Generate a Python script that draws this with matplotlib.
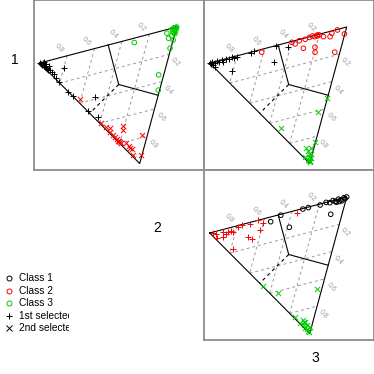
import matplotlib
matplotlib.use('Agg')
import matplotlib.pyplot as plt
import numpy as np
from matplotlib.transforms import Bbox, TransformedBbox

plt.rcParams['font.family'] = ['Liberation Sans', 'DejaVu Sans']

# ---------------- data (ternary coordinates: a = left vertex, c = bottom vertex) -------------
class_names = ["Class 1", "Class 2", "Class 3"]
class_colors = ["#000000", "#FF0000", "#00CD00"]
legend_shapes = ["1st selected", "2nd selected"]
diag_labels = ["1", "2", "3"]
tick_values = [0.2, 0.4, 0.6, 0.8]

# panel (1,2): L = class 1, T = class 3, B = class 2
p1_black_a = [1.0, 0.99, 0.98, 0.97, 0.96, 0.95, 0.94, 0.93, 0.92, 0.90, 0.88, 0.86, 0.84, 0.81, 0.80, 0.97, 0.95, 0.92,
              0.715, 0.67, 0.52, 0.495, 0.425]
p1_black_c = [0.0, 0.01, 0.02, 0.01, 0.03, 0.04, 0.05, 0.06, 0.07, 0.08, 0.10, 0.12, 0.15, 0.19, 0.09, 0.0, 0.02, 0.04,
              0.285, 0.33, 0.48, 0.385, 0.55]
p1_red_a = [0.607, 0.387, 0.34, 0.30, 0.31, 0.27, 0.22, 0.21, 0.20, 0.19, 0.21, 0.20, 0.147, 0.11, 0.07, 0.046, 0.005,
            0.09, 0.12, 0.25, 0.23]
p1_red_c = [0.368, 0.60, 0.64, 0.688, 0.66, 0.72, 0.78, 0.78, 0.79, 0.80, 0.67, 0.70, 0.814, 0.86, 0.92, 0.78, 0.937,
            0.87, 0.84, 0.74, 0.76]
p1_green_a = [0.30, 0.04, 0.01, 0.007, 0.064, 0.04, 0.02, 0.0, 0.02, 0.01, 0.005, 0.0, 0.0, 0.01, 0.0, 0.03, 0.02, 0.0, 0.01]
p1_green_c = [0.035, 0.34, 0.46, 0.154, 0.029, 0.072, 0.06, 0.096, 0.029, 0.007, 0.005, 0.01, 0.0, 0.02, 0.03, 0.01, 0.0, 0.05, 0.04]

# panel (1,3): L = class 1, T = class 2, B = class 3
p2_black_a = [1.0, 0.98, 0.96, 0.95, 0.93, 0.91, 0.90, 0.88, 0.86, 0.84, 0.82, 0.80, 0.70, 0.68, 0.515, 0.417, 0.497,
              0.805, 0.95, 0.97, 0.99]
p2_black_c = [0.0, 0.0, 0.01, 0.0, 0.01, 0.0, 0.02, 0.0, 0.01, 0.0, 0.01, 0.011, 0.007, 0.0, 0.003, 0.034, 0.123,
              0.11, 0.04, 0.02, 0.01]
p2_red_a = [0.614, 0.399, 0.369, 0.343, 0.30, 0.295, 0.206, 0.195, 0.215, 0.21, 0.20, 0.162, 0.11, 0.103, 0.067, 0.003,
            0.04, 0.25, 0.23, 0.27]
p2_red_c = [0.023, 0.007, 0.027, 0.01, 0.011, 0.078, 0.094, 0.134, 0.002, 0.01, 0.005, 0.028, 0.042, 0.019, 0.004, 0.05,
            0.174, 0.0, 0.01, 0.005]
p2_green_a = [0.01, 0.02, 0.058, 0.007, 0.006, 0.043, 0.30, 0.05, 0.02, 0.0, 0.03, 0.01, 0.0, 0.04, 0.0, 0.02]
p2_green_c = [0.97, 0.884, 0.874, 0.839, 0.521, 0.614, 0.663, 0.937, 0.95, 0.99, 0.92, 0.93, 0.96, 0.90, 0.98, 0.97]

# panel (2,3): L = class 2, T = class 1, B = class 3
p3_red_a = [0.93, 0.886, 0.857, 0.817, 0.788, 0.766, 0.701, 0.644, 0.60, 0.612, 0.689, 0.658, 0.781, 0.359, 0.95, 0.97,
            0.90, 0.87, 0.84]
p3_red_c = [0.056, 0.057, 0.028, 0.039, 0.014, 0.003, 0.01, 0.0, 0.03, 0.08, 0.109, 0.134, 0.175, 0.02, 0.02, 0.01,
            0.02, 0.04, 0.03]
p3_black_a = [0.545, 0.479, 0.386, 0.319, 0.279, 0.192, 0.089, 0.15, 0.12, 0.10, 0.08, 0.06, 0.04, 0.02, 0.01, 0.0, 0.03,
              0.05, 0.07]
p3_black_c = [0.037, 0.007, 0.12, 0.004, 0.004, 0.008, 0.103, 0.0, 0.01, 0.0, 0.01, 0.0, 0.01, 0.0, 0.01, 0.0, 0.02,
              0.02, 0.02]
p3_green_a = [0.47, 0.338, 0.154, 0.036, 0.096, 0.065, 0.015, 0.02, 0.04, 0.06, 0.03, 0.08, 0.05, 0.01, 0.07]
p3_green_c = [0.528, 0.617, 0.837, 0.665, 0.90, 0.897, 0.947, 0.98, 0.93, 0.92, 0.96, 0.88, 0.95, 0.99, 0.90]

# ---------------- layout ----------------
W = 374.0
fig = plt.figure(figsize=(3.74, 3.74), dpi=100)
PS = 170.0
VL, VT, VB = np.array([6.0, 63.0]), np.array([143.0, 27.0]), np.array([106.0, 163.5])


def tern(a, c):
    a = np.asarray(a, float)
    c = np.asarray(c, float)
    b = 1 - a - c
    xy = np.outer(a, VL) + np.outer(b, VT) + np.outer(c, VB)
    return xy[:, 0], xy[:, 1]


def panel(x0, y0):
    ax = fig.add_axes([x0 / W, 1 - (y0 + PS) / W, PS / W, PS / W])
    ax.set_xlim(0, PS)
    ax.set_ylim(PS, 0)
    ax.set_xticks([])
    ax.set_yticks([])
    for s in ax.spines.values():
        s.set_color('#8c8c8c')
        s.set_linewidth(1.3)
    # grid
    for v in tick_values:
        x, y = tern([v, v], [0, 1 - v])
        ax.plot(x, y, color='#999999', lw=0.7, ls=(0, (3, 3)), zorder=1)
        x, y = tern([1 - v, 0], [v, v])
        ax.plot(x, y, color='#999999', lw=0.7, ls=(0, (3, 3)), zorder=1)
    # triangle
    x, y = tern([1, 0, 0, 1], [0, 0, 1, 0])
    ax.plot(x, y, color='k', lw=0.8, zorder=2)
    # region boundaries
    x, y = tern([1 / 3, 0.5], [1 / 3, 0])
    ax.plot(x, y, color='k', lw=0.8, zorder=2)
    x, y = tern([1 / 3, 0], [1 / 3, 0.5])
    ax.plot(x, y, color='k', lw=0.8, zorder=2)
    x, y = tern([1 / 3, 0.5], [1 / 3, 0.5])
    ax.plot(x, y, color='k', lw=0.8, ls=(0, (3, 3)), zorder=2)
    # tick labels
    for v in tick_values:
        x, y = tern([v], [0])
        ax.text(x[0] - 8.2, y[0] - 7.2, f"{v:.1f}", fontsize=5, color='#999999', rotation=-45,
                ha='center', va='center', rotation_mode='anchor')
        x, y = tern([0], [v])
        ax.text(x[0] + 6.5, y[0] + 8.5, f"{v:.1f}", fontsize=5, color='#999999', rotation=-45,
                ha='center', va='center', rotation_mode='anchor')
    return ax


def pts(ax, a, c, color, mk):
    x, y = tern(a, c)
    if mk == 'o':
        ax.scatter(x, y, s=11, facecolors='none', edgecolors=color, linewidths=0.7, zorder=3)
    elif mk == '+':
        ax.scatter(x, y, s=22, marker='+', color=color, linewidths=0.7, zorder=3)
    else:
        ax.scatter(x, y, s=14, marker='x', color=color, linewidths=0.7, zorder=3)


ax1 = panel(33.7, 0)
pts(ax1, p1_green_a, p1_green_c, class_colors[2], 'o')
pts(ax1, p1_red_a, p1_red_c, class_colors[1], 'x')
pts(ax1, p1_black_a, p1_black_c, class_colors[0], '+')

ax2 = panel(203.7, 0)
pts(ax2, p2_red_a, p2_red_c, class_colors[1], 'o')
pts(ax2, p2_green_a, p2_green_c, class_colors[2], 'x')
pts(ax2, p2_black_a, p2_black_c, class_colors[0], '+')

ax3 = panel(203.7, 170)
pts(ax3, p3_black_a, p3_black_c, class_colors[0], 'o')
pts(ax3, p3_green_a, p3_green_c, class_colors[2], 'x')
pts(ax3, p3_red_a, p3_red_c, class_colors[1], '+')

# diagonal labels
for lab, (px, py) in zip(diag_labels, [(15, 60), (157, 228), (315, 357.5)]):
    fig.text(px / W, 1 - py / W, lab, fontsize=10, ha='center', va='center')

# legend
clip = TransformedBbox(Bbox([[0, 0], [68.5 / W, 1]]), fig.transFigure)
leg_items = [(class_names[0], class_colors[0], 'o'), (class_names[1], class_colors[1], 'o'),
             (class_names[2], class_colors[2], 'o'), (legend_shapes[0], 'k', '+'), (legend_shapes[1], 'k', 'x')]
for i, (lab, col, mk) in enumerate(leg_items):
    yy = 1 - (278.3 + i * 12.5) / W
    if mk == 'o':
        fig.lines.append(plt.Line2D([9 / W], [yy], marker='o', ms=3.6, mfc='none', mec=col, mew=0.7,
                                    transform=fig.transFigure))
    else:
        fig.lines.append(plt.Line2D([9 / W], [yy], marker=mk, ms=5 if mk == '+' else 4, color=col, mew=0.7,
                                    transform=fig.transFigure))
    t = fig.text(19 / W, yy, lab, fontsize=7.3, ha='left', va='center')
    t.set_clip_box(clip)
    t.set_clip_on(True)

fig.savefig('out.png', dpi=100)
